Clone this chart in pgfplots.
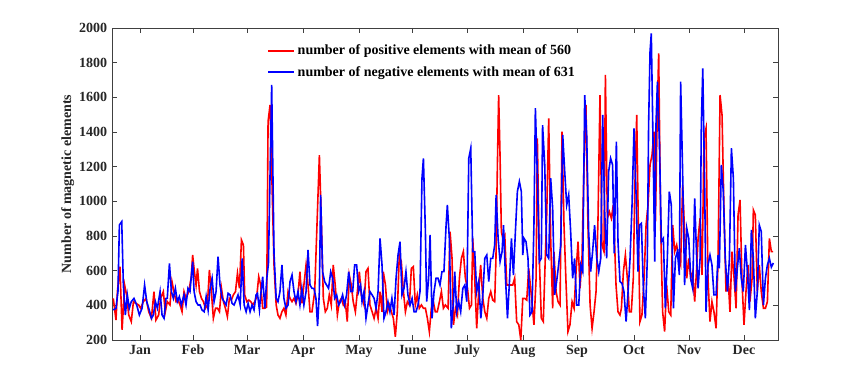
\documentclass[border=0pt]{standalone}
\usepackage{fontspec}
\setmainfont{Liberation Serif}
\usepackage{pgfplots}
\pgfplotsset{compat=1.18}

\begin{document}
\fontsize{10.5}{12.6}\selectfont
\begin{tikzpicture}
\begin{axis}[
    scale only axis,
    width=499.5pt, height=234pt,
    xmin=0, xmax=370, ymin=200, ymax=2000,
    clip=false,
    xtick={15.6,45,75,106.1,137.2,166.7,197.2,228.3,258.3,290,320.6,351.1},
    xticklabels={Jan,Feb,Mar,Apr,May,June,July,Aug,Sep,Oct,Nov,Dec},
    ytick={200,400,...,2000},
    tick align=inside, xtick pos=both, ytick pos=both,
    major tick length=3.5pt,
    axis line style={black!75, line width=0.5pt},
    tick style={black!75, line width=0.5pt},
    ticklabel style={font=\bfseries, text=black!85},
    /pgf/number format/assume math mode=true,
    /pgf/number format/1000 sep={},
    ylabel={Number of magnetic elements},
    every axis y label/.style={at={(ticklabel cs:0.5)}, rotate=90, anchor=near ticklabel,
        inner sep=0pt, font=\bfseries, text=black!85},
    legend style={at={(0.233,0.955)}, anchor=north west, draw=none, fill=none,
        font=\bfseries, row sep=3pt, inner sep=0pt},
    legend cell align=left,
    legend image code/.code={\draw[#1] (0pt,0pt) -- (19.5pt,0pt);},
]
% positive elements
\addplot[red, line width=1.2pt] coordinates {
(0.7,440) (2.2,315) (3.0,480) (4.4,623) (5.6,258) (7.0,517) (8.1,460) (9.3,344) (10.7,306) (11.9,421)
(13.3,411) (14.8,402) (15.9,383) (17.4,421) (18.9,440) (20.4,363) (21.9,325) (23.3,479) (24.4,315) (25.9,344)
(27.0,440) (28.5,479) (29.6,363) (30.7,421) (32.2,402) (33.3,537) (34.4,479) (35.6,421) (36.7,430) (37.8,402)
(38.9,363) (40.0,479) (41.1,440) (42.6,479) (44.0,560) (44.8,690) (45.7,600) (46.7,517) (47.5,613) (48.6,479)
(49.7,440) (50.8,421) (51.9,383) (53.0,402) (54.1,604) (55.2,479) (56.3,325) (57.5,383) (58.6,383) (59.7,363)
(60.8,498) (61.9,421) (63.0,383) (64.1,335) (65.2,440) (66.3,430) (67.4,460) (68.6,479) (69.7,585) (70.8,498)
(71.9,777) (73.0,748) (73.7,460) (74.9,421) (76.0,430) (77.1,421) (78.2,402) (79.3,421) (80.4,450) (81.5,565)
(82.6,517) (83.7,383) (84.9,383) (85.9,390) (86.7,1460) (87.8,1556) (89.0,1056) (90.0,633) (91.2,402)
(92.2,344) (93.3,325) (94.4,363) (95.5,383) (96.6,344) (97.8,479) (98.9,440) (100.0,421) (101.1,440) (102.2,411)
(103.3,460) (104.4,594) (105.5,411) (106.6,517) (107.8,633) (108.9,517) (110.0,363) (111.1,363) (112.6,479) (114.0,902)
(115.2,1267) (116.3,883) (117.4,440) (118.5,363) (119.6,383) (120.7,460) (121.8,402) (122.9,633) (124.0,517) (125.2,344)
(126.3,421) (127.4,440) (128.5,402) (129.6,421) (130.7,306) (131.8,575) (132.9,517) (134.0,421) (135.2,363) (136.3,479)
(137.4,594) (138.5,460) (140.0,402) (141.1,594) (142.2,613) (143.3,402) (144.5,363) (145.6,325) (146.7,383) (147.8,325)
(148.9,479) (150.0,363) (150.7,594) (151.9,517) (153.0,363) (154.1,402) (155.2,363) (156.3,325) (157.4,219) (158.5,363)
(159.6,690) (160.7,652) (161.9,479) (163.0,363) (164.1,421) (165.2,402) (166.3,613) (167.4,623) (168.5,402) (169.6,460)
(170.7,383) (171.9,402) (173.0,383) (174.1,383) (175.2,325) (176.3,248) (177.4,383) (178.5,421) (179.6,363) (180.7,363)
(181.9,421) (183.0,479) (184.1,383) (185.2,402) (186.7,383) (187.8,825) (188.9,671) (189.7,287) (190.8,383) (191.9,344)
(193.0,556) (194.1,671) (195.2,710) (196.3,556) (197.5,498) (198.6,383) (199.7,402) (200.4,786) (201.5,556) (202.6,267)
(203.7,479) (204.8,633) (206.0,440) (207.1,363) (208.2,325) (209.3,440) (210.4,479) (211.5,430) (212.6,421) (213.3,671)
(214.1,1210) (214.8,1613) (215.6,1248) (216.3,825) (217.1,786) (218.2,806) (219.3,517) (220.4,517) (221.5,517) (222.6,517)
(223.7,556) (224.8,306) (226.0,287) (227.1,200) (228.2,440) (229.3,440) (230.4,430) (231.5,613) (232.2,537) (233.3,421)
(234.4,287) (235.6,556) (236.3,1363) (237.4,671) (238.5,325) (239.6,306) (240.7,671) (241.5,921) (242.6,1479) (243.7,786)
(244.8,383) (245.5,710) (246.7,479) (247.8,421) (248.9,402) (250.0,1402) (251.1,863) (252.2,537) (253.3,248) (254.4,287)
(255.6,421) (256.7,383) (257.8,594) (258.9,767) (260.0,498) (261.1,671) (262.2,1210) (263.3,1556) (264.4,863) (265.6,402)
(266.7,267) (267.8,363) (268.9,479) (270.0,902) (271.1,1613) (272.2,748) (273.3,710) (274.1,1729) (275.2,902) (276.3,940)
(277.4,902) (278.5,979) (280.0,517) (281.1,363) (282.2,344) (283.0,383) (284.1,594) (285.2,690) (286.3,556) (287.4,363)
(288.5,363) (289.6,556) (290.4,1056) (291.5,1498) (292.6,710) (293.3,306) (294.4,344) (295.6,556) (296.7,863) (297.8,979)
(298.9,1210) (300.0,1267) (301.1,1402) (301.9,883) (302.9,1500) (303.7,1854) (304.8,863) (305.9,363) (307.0,248) (308.1,517)
(309.3,363) (310.4,344) (311.5,863) (312.6,710) (313.7,748) (314.8,671) (315.9,633) (317.0,1094) (318.1,825) (319.3,556)
(320.4,671) (321.5,556) (322.6,594) (323.7,421) (324.8,613) (325.6,786) (326.7,902) (327.8,575) (328.9,1363) (330.0,1421)
(331.1,556) (332.2,306) (333.3,421) (334.4,363) (335.6,267) (336.7,671) (337.8,1613) (338.9,1498) (340.0,940) (341.1,479)
(342.2,575) (343.3,363) (344.4,710) (345.6,556) (346.7,383) (347.8,921) (348.9,1008) (350.0,537) (351.1,287) (352.2,479)
(353.3,633) (354.4,421) (355.6,556) (356.3,950) (357.4,921) (358.5,479) (359.6,633) (360.7,479) (361.9,383) (363.0,383)
(364.1,421) (365.2,786) (366.3,710) (367.3,710)
};
\addlegendentry{number of positive elements with mean of 560}
% negative elements
\addplot[blue, line width=1.2pt] coordinates {
(0.7,373) (2.2,383) (3.3,479) (4.1,863) (5.4,883) (6.3,517) (7.4,344) (8.5,460) (9.6,383) (10.7,421)
(12.2,440) (13.7,402) (15.2,344) (16.7,383) (18.1,517) (19.3,421) (20.4,383) (21.9,325) (23.0,344) (24.1,421)
(25.2,383) (26.7,479) (27.8,344) (28.9,325) (30.0,440) (30.7,440) (31.9,642) (33.0,479) (34.1,440) (35.2,498)
(36.3,421) (37.4,450) (38.5,402) (40.0,460) (41.1,402) (42.2,498) (43.3,479) (44.8,652) (45.6,479) (46.7,421)
(47.8,402) (48.9,402) (50.0,373) (51.2,363) (52.3,450) (53.4,373) (54.5,498) (55.6,556) (56.7,421) (57.8,479)
(58.9,681) (60.0,517) (61.2,440) (62.3,421) (63.4,402) (64.5,469) (65.6,460) (66.7,411) (67.8,402) (68.9,430)
(70.0,460) (71.2,402) (72.3,671) (73.4,402) (74.5,363) (75.6,411) (76.7,363) (77.8,402) (78.9,373) (80.0,460)
(80.8,469) (81.9,373) (82.6,460) (83.7,565) (84.9,383) (86.0,556) (86.9,640) (88.7,1671) (90.0,700) (91.2,440)
(92.2,421) (93.3,479) (94.4,633) (95.5,440) (96.6,383) (97.8,402) (98.9,537) (100.0,575) (101.1,479) (102.2,421)
(103.3,479) (104.4,402) (105.5,498) (106.6,402) (107.8,479) (108.9,719) (110.0,517) (111.1,498) (112.2,498) (113.3,440)
(114.2,280) (115.2,479) (115.9,1037) (117.0,594) (118.1,537) (119.2,517) (120.3,498) (121.5,594) (122.6,556) (123.7,440)
(124.8,460) (125.9,402) (127.0,421) (128.1,460) (129.2,402) (130.3,460) (131.5,594) (132.6,479) (133.7,479) (134.8,633)
(135.9,633) (137.0,479) (138.1,517) (138.9,421) (140.0,479) (141.1,325) (142.2,402) (143.3,479) (144.5,460) (145.6,440)
(146.7,383) (147.8,479) (148.9,786) (150.0,633) (151.1,325) (152.2,363) (153.3,421) (154.4,363) (155.5,440) (156.7,344)
(157.8,556) (158.9,690) (160.0,767) (161.1,460) (162.2,498) (163.3,594) (164.4,460) (165.6,402) (166.7,440) (167.8,363)
(168.9,363) (170.0,402) (171.1,479) (172.2,1133) (173.0,1248) (174.1,825) (174.8,421) (175.9,556) (176.7,806) (177.8,325)
(178.9,479) (180.0,556) (181.1,556) (182.2,517) (183.3,594) (184.4,594) (185.6,863) (186.3,979) (187.4,786) (188.5,267)
(189.7,421) (190.4,594) (191.5,363) (192.6,421) (193.7,363) (194.9,498) (196.0,517) (197.1,421) (198.2,1248) (199.3,1306)
(200.4,710) (201.5,710) (202.6,479) (203.7,537) (204.9,325) (206.0,460) (207.1,671) (208.2,690) (209.3,537) (210.4,671)
(211.5,671) (212.6,748) (213.4,1037) (214.5,786) (215.6,652) (216.7,710) (217.5,863) (218.6,556) (219.7,325) (220.8,537)
(221.9,786) (223.0,575) (224.1,825) (225.2,1056) (226.3,1114) (227.4,1056) (228.2,690) (228.9,786) (230.0,767) (231.1,671)
(232.2,344) (233.3,363) (234.4,863) (235.2,1537) (236.3,1152) (237.4,652) (238.5,671) (239.2,1440) (240.4,1210) (241.5,690)
(242.6,671) (243.7,1133) (244.8,960) (245.9,460) (247.0,537) (248.1,633) (249.3,748) (250.4,1383) (251.5,1171) (252.6,979)
(253.7,1037) (254.8,825) (255.9,556) (257.0,671) (258.1,402) (259.3,402) (260.4,633) (261.5,594) (262.6,1613) (263.7,1383)
(264.8,825) (265.9,594) (267.0,710) (268.1,863) (269.3,671) (270.4,594) (271.5,671) (272.6,1498) (273.7,940) (274.8,671)
(275.9,1171) (277.0,1248) (278.1,1210) (279.0,700) (280.2,1344) (281.1,767) (282.2,537) (283.3,527) (284.4,479) (285.6,306)
(286.7,479) (287.8,671) (288.9,979) (290.0,1421) (291.1,1056) (292.2,594) (293.0,863) (294.1,873) (295.2,498) (296.3,325)
(297.4,671) (298.1,1440) (298.9,1863) (299.6,1969) (300.7,1248) (301.5,652) (302.2,1440) (303.0,1690) (304.1,1344) (305.2,767)
(306.3,786) (307.4,383) (308.5,671) (309.6,1056) (310.7,979) (311.9,383) (313.0,671) (314.1,710) (315.2,575) (315.9,1690)
(317.0,1171) (318.1,517) (319.3,844) (320.4,786) (321.5,556) (322.6,498) (323.7,1017) (324.8,671) (325.6,498) (326.7,671)
(327.4,1440) (328.2,1767) (329.3,1056) (330.0,363) (331.1,633) (332.2,690) (333.3,633) (334.4,460) (335.6,460) (336.7,690)
(337.4,613) (338.5,1210) (339.6,1056) (340.7,671) (341.9,479) (343.0,671) (344.1,1306) (345.2,1133) (346.3,479) (347.4,613)
(348.5,729) (349.6,556) (350.7,479) (351.9,748) (353.0,594) (354.1,373) (355.2,835) (356.3,671) (357.4,325) (358.5,479)
(359.6,863) (360.7,825) (361.9,402) (363.0,556) (364.1,633) (365.2,671) (366.3,620) (367.4,644)
};
\addlegendentry{number of negative elements with mean of 631}
% page extent of the original figure
\path (rel axis cs:-0.1682,-0.1346) rectangle (rel axis cs:1.1291,1.0897);
\end{axis}
\end{tikzpicture}
\end{document}
